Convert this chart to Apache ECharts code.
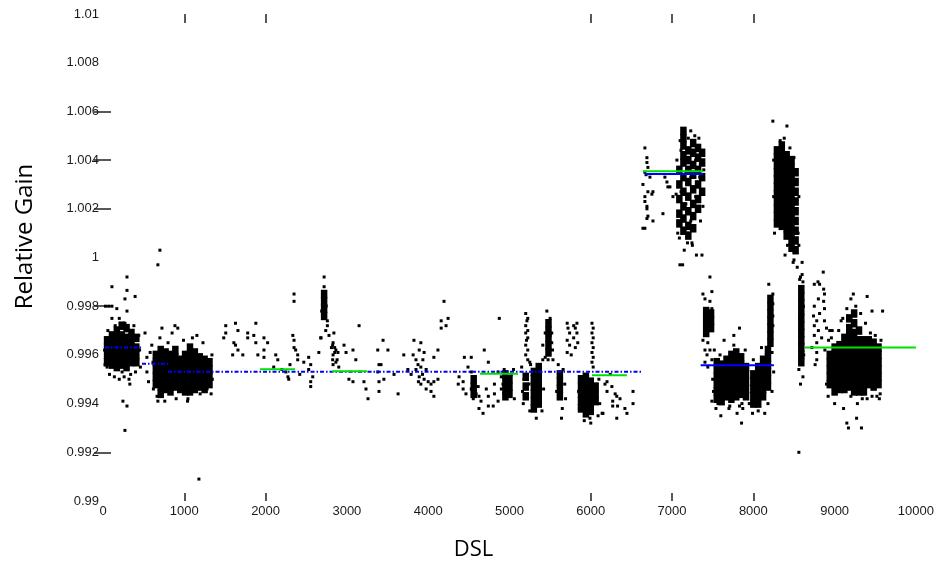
<!DOCTYPE html>
<html>
<head>
<meta charset="utf-8">
<script src="https://cdn.jsdelivr.net/npm/echarts/dist/echarts.min.js"></script>
<style>
html,body{margin:0;padding:0;background:#fff;}
#chart{width:937px;height:566px;}
</style>
</head>
<body>
<div id="chart"></div>
<script>
// ---- axis ticks / labels ----
const xTickMarks = [1000, 2000, 6000, 7000, 8000];
const yTickMarks = [1.006, 1.004, 1.002, 0.998, 0.992];
const xLabelValues = [0, 1000, 2000, 3000, 4000, 5000, 6000, 7000, 8000, 9000, 10000];
const yLabelValues = [0.99, 0.992, 0.994, 0.996, 0.998, 1, 1.002, 1.004, 1.006, 1.008, 1.01];

// ---- dense measurement clusters: [DSL, gain, gain, ...] ----
const denseCols = [
  [50, 0.9966,0.9963,0.9960,0.9957],
  [110, 0.9968,0.9965,0.9962,0.9959,0.9956],
  [170, 0.9970,0.9967,0.9964,0.9961,0.9958,0.9955],
  [230, 0.9972,0.9968,0.9965,0.9962,0.9959,0.9956],
  [290, 0.9971,0.9967,0.9964,0.9961,0.9958,0.9955],
  [350, 0.9969,0.9966,0.9963,0.9960,0.9957],
  [410, 0.9967,0.9963,0.9960,0.9957],
  [650, 0.9960,0.9957,0.9954,0.9951,0.9948],
  [710, 0.9962,0.9959,0.9956,0.9953,0.9950,0.9947,0.9944],
  [770, 0.9961,0.9958,0.9955,0.9952,0.9949,0.9946],
  [830, 0.9960,0.9957,0.9954,0.9951,0.9948,0.9945],
  [890, 0.9962,0.9959,0.9956,0.9953,0.9950,0.9947],
  [950, 0.9958,0.9955,0.9952,0.9949,0.9946],
  [1010, 0.9960,0.9957,0.9954,0.9951,0.9948,0.9945],
  [1070, 0.9963,0.9960,0.9957,0.9954,0.9951,0.9948,0.9945],
  [1130, 0.9961,0.9958,0.9955,0.9952,0.9949,0.9946],
  [1190, 0.9959,0.9956,0.9953,0.9950,0.9947],
  [1250, 0.9958,0.9955,0.9952,0.9949,0.9946],
  [1310, 0.9957,0.9954,0.9951,0.9948],
  [2720, 0.9985,0.9982,0.9979,0.9976],
  [4560, 0.9950,0.9947,0.9944],
  [4950, 0.9952,0.9949,0.9946,0.9943],
  [5000, 0.9950,0.9947,0.9944],
  [5200, 0.9951,0.9947,0.9943],
  [5300, 0.9953,0.9950,0.9947,0.9944,0.9941,0.9938],
  [5360, 0.9955,0.9952,0.9949,0.9946,0.9943,0.9940],
  [5480, 0.9973,0.9970,0.9967,0.9964,0.9961],
  [5620, 0.9952,0.9949,0.9946,0.9943],
  [5880, 0.9950,0.9947,0.9944,0.9941,0.9938],
  [5940, 0.9951,0.9948,0.9945,0.9942,0.9939,0.9936],
  [6000, 0.9949,0.9946,0.9943,0.9940,0.9937],
  [6060, 0.9947,0.9944,0.9941],
  [7090, 1.0036,1.0030,1.0024,1.0018,1.0014],
  [7140, 1.0052,1.0049,1.0046,1.0042,1.0039,1.0033,1.0027,1.0021,1.0016,1.0011],
  [7200, 1.0044,1.0040,1.0036,1.0031,1.0025,1.0019,1.0013,1.0009],
  [7260, 1.0047,1.0043,1.0038,1.0034,1.0028,1.0022,1.0017,1.0012],
  [7320, 1.0045,1.0041,1.0036,1.0030,1.0024,1.0020],
  [7370, 1.0043,1.0039,1.0033,1.0027],
  [7420, 0.9978,0.9975,0.9972,0.9969],
  [7480, 0.9977,0.9974,0.9971],
  [7550, 0.9957,0.9954,0.9951,0.9948,0.9945,0.9942],
  [7610, 0.9956,0.9953,0.9950,0.9947,0.9944,0.9941],
  [7670, 0.9958,0.9955,0.9952,0.9949,0.9946,0.9943],
  [7730, 0.9960,0.9957,0.9954,0.9951,0.9948,0.9945,0.9942],
  [7790, 0.9961,0.9958,0.9955,0.9952,0.9949,0.9946,0.9943],
  [7850, 0.9959,0.9956,0.9953,0.9950,0.9947,0.9944],
  [7910, 0.9955,0.9952,0.9949,0.9946,0.9943],
  [8000, 0.9952,0.9949,0.9946,0.9943,0.9940],
  [8060, 0.9955,0.9952,0.9949,0.9946,0.9943,0.9940],
  [8120, 0.9958,0.9955,0.9952,0.9949,0.9946,0.9943],
  [8180, 0.9962,0.9959,0.9956,0.9953,0.9950,0.9947],
  [8210, 0.9983,0.9980,0.9977,0.9974,0.9971,0.9968,0.9965],
  [8290, 1.0044,1.0041,1.0038,1.0035,1.0032,1.0029,1.0026,1.0023,1.0020,1.0017,1.0014],
  [8350, 1.0046,1.0043,1.0040,1.0037,1.0034,1.0031,1.0028,1.0025,1.0022,1.0019,1.0016,1.0013],
  [8410, 1.0042,1.0039,1.0036,1.0033,1.0030,1.0027,1.0024,1.0021,1.0018,1.0015,1.0012,1.0009],
  [8470, 1.0040,1.0037,1.0034,1.0031,1.0028,1.0025,1.0022,1.0019,1.0016,1.0013,1.0010,1.0007,1.0004],
  [8520, 1.0035,1.0031,1.0027,1.0023,1.0019,1.0015,1.0011,1.0007,1.0003],
  [8590, 0.9987,0.9984,0.9981,0.9978,0.9975,0.9972,0.9969,0.9966,0.9963,0.9960,0.9957],
  [8940, 0.9960,0.9957,0.9954,0.9951,0.9948],
  [9000, 0.9963,0.9960,0.9957,0.9954,0.9951,0.9948,0.9945],
  [9060, 0.9964,0.9961,0.9958,0.9955,0.9952,0.9949,0.9946],
  [9120, 0.9967,0.9964,0.9961,0.9958,0.9955,0.9952,0.9949,0.9946],
  [9180, 0.9975,0.9971,0.9968,0.9965,0.9962,0.9959,0.9956,0.9953,0.9950,0.9947],
  [9240, 0.9977,0.9973,0.9969,0.9966,0.9963,0.9960,0.9957,0.9954,0.9951,0.9948,0.9945],
  [9300, 0.9970,0.9966,0.9963,0.9960,0.9957,0.9954,0.9951,0.9948,0.9945],
  [9360, 0.9966,0.9963,0.9960,0.9957,0.9954,0.9951,0.9948,0.9945],
  [9420, 0.9966,0.9963,0.9960,0.9957,0.9954,0.9951,0.9948],
  [9480, 0.9965,0.9962,0.9959,0.9956,0.9953,0.9950,0.9947],
  [9540, 0.9963,0.9960,0.9957,0.9954,0.9951,0.9948]
];

// ---- scattered individual measurements [DSL, gain] ----
const sparsePts = [
  [295,0.9992],[110,0.9988],[295,0.99865],[395,0.9984],[270,0.9983],[30,0.9980],[70,0.9980],[110,0.9980],
  [170,0.9979],[295,0.9978],[270,0.9973],[110,0.9975],[355,0.9969],[50,0.9955],[235,0.9953],[330,0.9948],
  [245,0.9941],[295,0.9939],[270,0.9929],[320,0.9950],[20,0.9962],[25,0.9956],[80,0.9952],[140,0.9951],
  [200,0.9950],[260,0.9951],[340,0.9952],[400,0.9953],[450,0.9962],[460,0.9955],[440,0.9968],[380,0.9972],
  [200,0.9975],[150,0.9972],[60,0.9970],
  [517,0.9969],[725,0.9971],[700,0.9967],[600,0.9964],[540,0.9959],[615,0.9957],[580,0.9961],[540,0.9953],
  [640,0.9953],[800,0.9965],[885,0.9972],[920,0.9971],[850,0.9969],[1155,0.9968],[1230,0.9965],[665,0.9943],
  [675,0.9941],[1045,0.9942],[1195,0.9944],[1280,0.9946],[700,1.0003],[675,0.9997],[1180,0.9909],
  [1340,0.9960],[1345,0.9950],[1330,0.9944],[990,0.9966],[1100,0.9967],[1040,0.9941],[900,0.9942],
  [760,0.9941],[620,0.9946],[560,0.9949],
  [1510,0.9972],[1510,0.9969],[1485,0.9967],[1630,0.9973],[1660,0.9970],[1610,0.9965],[1630,0.9964],
  [1660,0.9962],[1595,0.9960],[1780,0.9969],[1780,0.9967],[1880,0.9973],[1720,0.9960],[1855,0.9968],
  [1880,0.9965],[1980,0.9967],[1980,0.9962],[1905,0.9960],[1980,0.9959],[2025,0.9965],
  [2125,0.9960],[2150,0.9958],[2250,0.9953],[2275,0.9951],[2285,0.9950],[2335,0.9968],[2350,0.9966],
  [2350,0.9963],[2370,0.9962],[2395,0.9960],[2395,0.9958],[2350,0.9985],[2350,0.9982],[2470,0.9957],
  [2530,0.9959],[2555,0.9956],[2530,0.9954],[2580,0.9951],[2555,0.9949],[2555,0.9947],[2655,0.9961],
  [2680,0.9967],[2200,0.9954],[2300,0.9956],[2420,0.9952],[2100,0.9955],
  [2720,0.9992],[2720,0.9988],[2745,0.9980],[2690,0.9978],[2760,0.9974],[2760,0.9972],[2680,0.9967],
  [2830,0.9965],[2810,0.9963],[2850,0.9961],[2830,0.9960],[2880,0.9958],[2830,0.9956],[2900,0.9955],
  [2850,0.9963],[2740,0.9970],[2780,0.9968],
  [2840,0.9969],[2825,0.9964],[2865,0.9962],[2890,0.9961],[2825,0.9958],[2865,0.9957],[2965,0.9964],
  [2990,0.9961],[3075,0.9962],[3110,0.9958],[3025,0.9950],[3075,0.9949],[3150,0.9972],[3210,0.9949],
  [3260,0.9942],[3235,0.9946],[3380,0.9962],[3395,0.9956],[3420,0.9956],[3380,0.9953],[3455,0.9950],
  [3395,0.9949],[3445,0.9966],[3505,0.9962],[3580,0.9952],[3630,0.9944],[3395,0.9945],
  [3825,0.9966],[3910,0.9965],[3890,0.9962],[3815,0.9960],[3950,0.9961],[3850,0.9958],[3935,0.9958],
  [3875,0.9956],[3910,0.9955],[3975,0.9954],[3850,0.9954],[3890,0.9951],[3950,0.9950],[4000,0.9949],
  [3910,0.9948],[4035,0.9948],[4070,0.9949],[4120,0.9950],[3975,0.9946],[4035,0.9945],[4070,0.9943],
  [4120,0.9962],[4070,0.9959],[3790,0.9952],[3750,0.9954],[3700,0.9960],[3930,0.9952],[3880,0.9949],
  [4195,0.9982],[4160,0.9974],[4245,0.9975],[4160,0.9971],[4220,0.9972],
  [4445,0.9959],[4530,0.9959],[4380,0.9951],[4430,0.9949],[4370,0.9948],[4490,0.9955],[4530,0.9953],
  [4565,0.9951],[4555,0.9948],[4615,0.9947],[4530,0.9946],[4590,0.9944],[4625,0.9943],[4555,0.9942],
  [4650,0.9941],[4625,0.9938],[4675,0.9936],[4690,0.9962],[4740,0.9957],[4465,0.9944],[4430,0.9946],
  [4715,0.9946],[4740,0.9943],[4740,0.9939],
  [4860,0.9953],[4900,0.9951],[4935,0.9954],[4920,0.9948],[4900,0.9946],[4935,0.9944],[4985,0.9943],
  [4860,0.9941],[4815,0.9948],[4815,0.9944],[5020,0.9952],[4875,0.9975],[4800,0.9939],[5060,0.9942],
  [5050,0.9954],
  [5200,0.9977],[5225,0.9975],[5200,0.9972],[5225,0.9970],[5200,0.9969],[5225,0.9967],[5200,0.9964],
  [5225,0.9962],[5200,0.9960],[5225,0.9958],[5250,0.9957],[5210,0.9966],[5215,0.9974],
  [5150,0.9955],[5160,0.9945],[5170,0.9940],[5180,0.9950],[5250,0.9937],[5260,0.9956],[5400,0.9937],
  [5410,0.9958],[5330,0.9934],[5240,0.9948],[5420,0.9946],
  [5500,0.9975],[5520,0.9969],[5440,0.9969],[5500,0.9968],[5520,0.9965],[5410,0.9964],[5475,0.9958],
  [5440,0.9959],[5535,0.9958],[5460,0.9978],[5530,0.9962],
  [5660,0.9954],[5680,0.9948],[5690,0.9942],[5650,0.9938],[5600,0.9956],[5640,0.9934],[5580,0.9945],
  [5710,0.9973],[5720,0.9971],[5810,0.9971],[5740,0.9969],[5830,0.9969],[5790,0.9967],[5710,0.9966],
  [5840,0.9965],[5740,0.9964],[5810,0.9963],[5710,0.9961],[5830,0.9973],[5760,0.9960],[5790,0.9972],
  [5850,0.9945],[5860,0.9938],[6100,0.9950],[6090,0.9935],[5920,0.9933],[6000,0.9932],[6110,0.9940],
  [5990,0.9934],[6150,0.9936],
  [6015,0.9973],[6030,0.9971],[6015,0.9969],[6030,0.9967],[6015,0.9965],[6030,0.9963],[6015,0.9961],
  [6030,0.9959],[6015,0.9957],[6030,0.9955],
  [6200,0.9949],[6260,0.9947],[6200,0.9945],[6320,0.9943],[6270,0.9941],[6330,0.9939],[6175,0.9948],
  [6300,0.9944],[6360,0.9942],[6270,0.9939],[6420,0.9938],[6520,0.9945],[6520,0.9940],[6140,0.9936],
  [6320,0.9934],[6445,0.9936],[6240,0.9952],
  [6666,1.0045],[6691,1.0041],[6691,1.0039],[6703,1.0037],[6666,1.0035],[6728,1.0033],[6642,1.0030],
  [6703,1.0027],[6765,1.0027],[6752,1.0026],[6666,1.0025],[6666,1.0023],[6691,1.0021],[6691,1.0020],
  [6703,1.0017],[6691,1.0016],[6765,1.0015],[6666,1.0012],[6642,1.0012],[6888,1.0018],[6912,1.0033],
  [6937,1.0031],[6974,1.0029],[6949,1.0029],[7011,1.0025],[6680,1.0034],
  [7100,1.0048],[7090,1.0008],[7150,1.0003],[7130,0.9997],[7230,1.0052],[7280,1.0050],[7330,1.0049],
  [7190,1.0006],[7250,1.0005],[7300,1.0001],[7350,1.0015],[7380,1.0021],[7060,1.0040],[7050,1.0026],
  [7070,1.0010],[7245,1.0006],[7368,1.0001],[7097,0.9997],[7466,0.9992],[7110,1.0044],[7230,1.0033],
  [7290,1.0040],[7170,1.0022],[7340,1.0033],[7390,1.0036],[7110,1.0027],[7230,1.0015],[7290,1.0025],
  [7170,1.0035],[7200,1.0049],
  [7380,0.9985],[7490,0.9986],[7405,0.9983],[7466,0.9982],[7490,0.9979],[7430,0.9968],[7380,0.9966],
  [7440,0.9965],[7405,0.9962],[7466,0.9962],[7430,0.9960],[7490,0.9958],[7405,0.9957],[7440,0.9955],
  [7520,0.9962],[7540,0.9938],[7600,0.9935],[7640,0.9966],[7700,0.9938],[7760,0.9968],[7800,0.9936],
  [7830,0.9971],[7860,0.9940],[7900,0.9962],[7950,0.9940],[7855,0.9932],[7490,0.9941],[7565,0.9940],
  [7710,0.9939],[7830,0.9939],[7870,0.9938],[7760,0.9964],[7590,0.9960],[7500,0.9950],[7510,0.9945],
  [8000,0.9958],[7990,0.9936],[8100,0.9963],[8140,0.9936],[8230,0.9961],[8250,0.9953],[8240,0.9985],
  [8240,0.9981],[8240,0.9976],[8240,0.9972],[8190,0.9989],[8060,0.9937],[8180,0.9940],[8230,0.9945],
  [8240,1.0056],[8413,1.0054],[8330,1.0048],[8380,1.0049],[8450,1.0045],[8500,1.0041],[8560,1.0025],
  [8550,1.0010],[8500,0.9999],[8540,0.9996],[8390,1.0001],[8490,0.9998],[8600,0.9998],[8860,0.9994],
  [8580,0.9992],[8610,0.9990],[8795,0.9990],[8260,1.0010],[8250,1.0025],[8560,1.0005],[8420,1.0005],
  [8250,1.0040],
  [8570,0.9991],[8600,0.9993],[8560,0.9954],[8610,0.9951],[8580,0.9948],[8620,0.9960],[8570,0.9975],
  [8615,0.9980],
  [8750,0.9989],[8815,0.9989],[8865,0.9987],[8875,0.9985],[8800,0.9983],[8865,0.9982],[8750,0.9980],
  [8875,0.9979],[8815,0.9977],[8740,0.9976],[8780,0.9974],[8875,0.9974],[8750,0.9972],[8800,0.9970],
  [8900,0.9971],[8750,0.9968],[8840,0.9967],[8780,0.9965],[8925,0.9966],[8780,0.9961],[8780,0.9958],
  [8720,0.9963],[8760,0.9956],
  [8880,0.9962],[8900,0.9948],[8920,0.9943],[8960,0.9967],[9000,0.9940],[9050,0.9970],[9100,0.9975],
  [9110,0.9938],[9150,0.9979],[9200,0.9983],[9260,0.9980],[9280,0.9940],[9320,0.9977],[9340,0.9942],
  [9380,0.9973],[9400,0.9942],[9440,0.9969],[9460,0.9943],[9500,0.9968],[9520,0.9943],[9570,0.9966],
  [9560,0.9944],[9150,0.9932],[9170,0.9930],[9270,0.9934],[9330,0.9930],[9230,0.9985],[9400,0.9984],
  [9460,0.9978],[9590,0.9978],[9080,0.9974],[8970,0.9970],[8940,0.9970],[9200,0.9943],[9360,0.9944],
  [9550,0.9942],[8560,0.9920]
];

// ---- fitted level segments: [startDSL, endDSL, gain] ----
const blueDashSegs = [[25, 480, 0.99630], [480, 800, 0.99564], [800, 6642, 0.99531]];
const blueSolidSegs = [[6667, 7380, 1.00343], [7352, 8253, 0.99557]];
const greenSegs = [[1931, 2362, 0.99541], [2817, 3247, 0.99533], [4637, 5105, 0.99523],
                   [6015, 6445, 0.99516], [6642, 7380, 1.00354], [8635, 10000, 0.99630]];

const densePts = [];
denseCols.forEach(c => { for (let i = 1; i < c.length; i++) densePts.push([c[0], c[i]]); });

function segSeries(segs, style) {
  return segs.map(s => ({
    type: 'line', data: [[s[0], s[2]], [s[1], s[2]]], showSymbol: false, silent: true,
    lineStyle: style, z: 5, animation: false
  }));
}

const tickStyle = { color: '#222', width: 1.5 };
const labelFont = { fontFamily: 'Liberation Sans, Arial, sans-serif', fontSize: 13, color: '#1a1a1a' };

const chart = echarts.init(document.getElementById('chart'), null, { renderer: 'canvas' });
chart.setOption({
  animation: false,
  backgroundColor: '#fff',
  grid: { left: 103, right: 21, top: 14, bottom: 64 },
  xAxis: [{
    type: 'value', min: 0, max: 10000, interval: 1000, position: 'bottom',
    name: 'DSL', nameLocation: 'middle', nameGap: 38,
    nameTextStyle: { fontFamily: 'Open Sans', fontSize: 22, color: '#000', padding: [0, 72, 0, 0] },
    axisLine: { show: false }, splitLine: { show: false },
    axisTick: { show: true, inside: true, length: 8, customValues: xTickMarks, lineStyle: tickStyle },
    axisLabel: Object.assign({ margin: 4, showMinLabel: true, showMaxLabel: true, customValues: xLabelValues,
      formatter: v => String(Math.round(v)) }, labelFont)
  }, {
    type: 'value', min: 0, max: 10000, interval: 1000, position: 'top',
    axisLine: { show: false }, splitLine: { show: false },
    axisTick: { show: true, inside: true, length: 9, customValues: xTickMarks, lineStyle: tickStyle },
    axisLabel: { show: false }
  }],
  yAxis: [{
    type: 'value', min: 0.99, max: 1.01, interval: 0.002, position: 'left',
    name: 'Relative Gain', nameLocation: 'middle', nameGap: 66,
    nameTextStyle: { fontFamily: 'Open Sans', fontSize: 24, color: '#000', padding: [0, 0, 0, 42] },
    axisLine: { show: false }, splitLine: { show: false },
    axisTick: { show: true, inside: true, length: 8, customValues: yTickMarks, lineStyle: tickStyle },
    axisLabel: Object.assign({ margin: 4, showMinLabel: true, showMaxLabel: true, customValues: yLabelValues,
      formatter: v => String(+v.toFixed(3)) }, labelFont)
  }, {
    type: 'value', min: 0.99, max: 1.01, interval: 0.002, position: 'right',
    axisLine: { show: false }, splitLine: { show: false },
    axisTick: { show: true, inside: true, length: 9, customValues: yTickMarks, lineStyle: tickStyle },
    axisLabel: { show: false }
  }],
  series: [
    { type: 'scatter', data: densePts, symbol: 'rect', symbolSize: [6.5, 8.5],
      itemStyle: { color: '#000', opacity: 1 }, silent: true, z: 2 },
    { type: 'scatter', data: sparsePts, symbol: 'rect', symbolSize: [3, 3],
      itemStyle: { color: '#000', opacity: 1 }, silent: true, z: 2 }
  ].concat(
    segSeries(blueDashSegs, { color: '#0000ff', width: 2, type: [4, 2, 1.5, 2] }),
    segSeries(blueSolidSegs, { color: '#0000ff', width: 2, type: 'solid' }),
    segSeries(greenSegs, { color: '#00e000', width: 2, type: 'solid' })
  )
});
</script>
</body>
</html>
